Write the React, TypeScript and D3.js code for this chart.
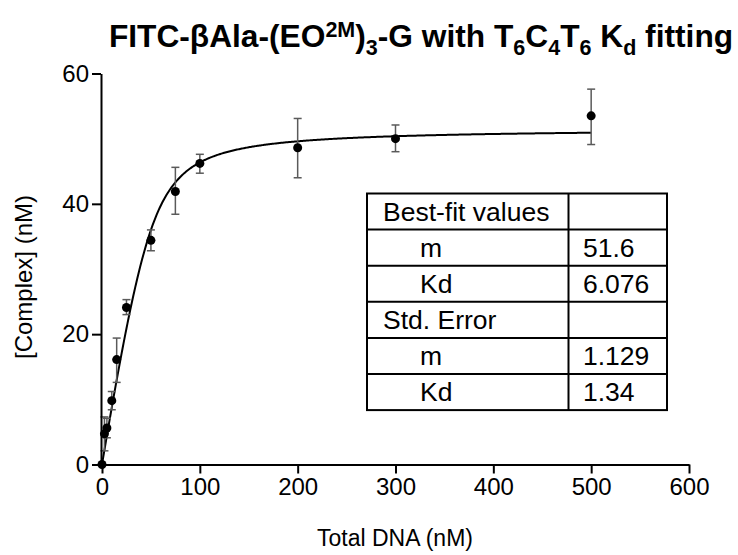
import { useEffect, useRef } from 'react';
import * as d3 from 'd3';

// measured concentrations (nM) and complex (nM) with SD
const totalDna = [0, 2.5, 5, 10, 15, 25, 50, 75, 100, 200, 300, 500];
const complex = [0, 4.7, 5.6, 9.8, 16.1, 24.1, 34.4, 41.9, 46.2, 48.6, 50.0, 53.5];
const errUp = [0, 2.6, 1.5, 1.4, 3.3, 1.2, 1.6, 3.7, 1.4, 4.5, 2.1, 4.1];
const errDown = [0, 2.6, 1.5, 1.4, 3.5, 1.1, 1.6, 3.5, 1.5, 4.6, 2.0, 4.4];

const xTicks = [0, 100, 200, 300, 400, 500, 600];
const yTicks = [0, 20, 40, 60];

// fit results
const fitM = 51.6;
const fitKd = 6.076;
const tableRows = [
    ['Best-fit values', ''],
    ['m', '51.6'],
    ['Kd', '6.076'],
    ['Std. Error', ''],
    ['m', '1.129'],
    ['Kd', '1.34'],
];
const indented = [false, true, true, false, true, true];

const FONT = 'Helvetica, "Liberation Sans", Arial, sans-serif';

export default function App() {
    const svgRef = useRef<SVGSVGElement>(null);

    useEffect(() => {
        const svg = d3.select(svgRef.current);
        svg.selectAll('*').remove();

        const x = d3.scaleLinear().domain([0, 600]).range([102, 689]);
        const y = d3.scaleLinear().domain([0, 60]).range([464.5, 73.5]);

        // title
        const title = svg
            .append('text')
            .attr('x', 421)
            .attr('y', 47)
            .attr('text-anchor', 'middle')
            .style('font-family', FONT)
            .style('font-size', '31.7px')
            .style('font-weight', 'bold')
            .attr('fill', '#000');
        const parts: [string, string][] = [
            ['FITC-βAla-(EO', 'n'],
            ['2M', 'sup'],
            [')', 'n'],
            ['3', 'sub'],
            ['-G with T', 'n'],
            ['6', 'sub'],
            ['C', 'n'],
            ['4', 'sub'],
            ['T', 'n'],
            ['6', 'sub'],
            [' K', 'n'],
            ['d', 'sub'],
            [' fitting', 'n'],
        ];
        let shift = 0;
        parts.forEach(([t, kind]) => {
            const target = kind === 'sup' ? -10 : kind === 'sub' ? 8 : 0;
            title
                .append('tspan')
                .attr('dy', target - shift)
                .style('font-size', kind === 'n' ? '31.7px' : '21.5px')
                .text(t);
            shift = target;
        });

        // fitted curve (ligand depletion model)
        const fit = (L: number) => {
            const s = fitM + L + fitKd;
            return (s - Math.sqrt(s * s - 4 * fitM * L)) / 2;
        };
        const curveX = d3.range(0, 500.5, 1);
        svg
            .append('path')
            .datum(curveX)
            .attr('fill', 'none')
            .attr('stroke', '#000')
            .attr('stroke-width', 2)
            .attr(
                'd',
                d3
                    .line<number>()
                    .x((d) => x(d))
                    .y((d) => y(fit(d)))
            );

        // error bars
        const eb = svg.append('g').attr('stroke', '#5a5a5a').attr('stroke-width', 1.5);
        totalDna.forEach((c, i) => {
            if (errUp[i] === 0 && errDown[i] === 0) return;
            const cx = x(c);
            const top = y(complex[i] + errUp[i]);
            const bot = y(complex[i] - errDown[i]);
            eb.append('line').attr('x1', cx).attr('x2', cx).attr('y1', top).attr('y2', bot);
            eb.append('line').attr('x1', cx - 4).attr('x2', cx + 4).attr('y1', top).attr('y2', top);
            eb.append('line').attr('x1', cx - 4).attr('x2', cx + 4).attr('y1', bot).attr('y2', bot);
        });

        // points
        svg
            .append('g')
            .selectAll('circle')
            .data(totalDna)
            .enter()
            .append('circle')
            .attr('cx', (d) => x(d))
            .attr('cy', (_, i) => y(complex[i]))
            .attr('r', 4.5)
            .attr('fill', '#000');

        // axes
        const xAxis = svg
            .append('g')
            .attr('transform', `translate(0,${y(0)})`)
            .call(d3.axisBottom(x).tickValues(xTicks).tickSize(9).tickSizeOuter(0).tickPadding(4));
        const yAxis = svg
            .append('g')
            .attr('transform', `translate(${x(0) - 1},0)`)
            .call(d3.axisLeft(y).tickValues(yTicks).tickSize(9).tickSizeOuter(0).tickPadding(3));
        [xAxis, yAxis].forEach((a) => {
            a.select('.domain').attr('stroke', '#000').attr('stroke-width', 2);
            a.selectAll('.tick line').attr('stroke', '#000').attr('stroke-width', 2);
            a.selectAll('.tick text')
                .attr('fill', '#000')
                .style('font-family', FONT)
                .style('font-size', '24px');
        });

        svg
            .append('text')
            .attr('x', 395)
            .attr('y', 546)
            .attr('text-anchor', 'middle')
            .style('font-family', FONT)
            .style('font-size', '23px')
            .text('Total DNA (nM)');
        svg
            .append('text')
            .attr('transform', `translate(32,277) rotate(-90)`)
            .attr('text-anchor', 'middle')
            .style('font-family', FONT)
            .style('font-size', '24px')
            .text('[Complex] (nM)');

        // results table
        const tx0 = 367, tx1 = 568.5, tx2 = 667, ty0 = 193.5, rowH = 36.1;
        const tbl = svg.append('g');
        tbl.append('rect')
            .attr('x', tx0)
            .attr('y', ty0)
            .attr('width', tx2 - tx0)
            .attr('height', rowH * tableRows.length)
            .attr('fill', '#fff')
            .attr('stroke', '#000')
            .attr('stroke-width', 2);
        tbl.append('line')
            .attr('x1', tx1).attr('x2', tx1)
            .attr('y1', ty0).attr('y2', ty0 + rowH * tableRows.length)
            .attr('stroke', '#000').attr('stroke-width', 2);
        tableRows.forEach((row, i) => {
            if (i > 0) {
                tbl.append('line')
                    .attr('x1', tx0).attr('x2', tx2)
                    .attr('y1', ty0 + rowH * i).attr('y2', ty0 + rowH * i)
                    .attr('stroke', '#000').attr('stroke-width', 2);
            }
            const by = ty0 + rowH * i + 27;
            tbl.append('text')
                .attr('x', indented[i] ? 420 : 383)
                .attr('y', by)
                .style('font-family', FONT)
                .style('font-size', '26.5px')
                .text(row[0]);
            tbl.append('text')
                .attr('x', 583)
                .attr('y', by)
                .style('font-family', FONT)
                .style('font-size', '26.5px')
                .text(row[1]);
        });
    }, []);

    return (
        <div style={{ position: 'absolute', left: 0, top: 0 }}>
            <svg ref={svgRef} width={738} height={555} style={{ display: 'block', background: '#fff' }} />
        </div>
    );
}
